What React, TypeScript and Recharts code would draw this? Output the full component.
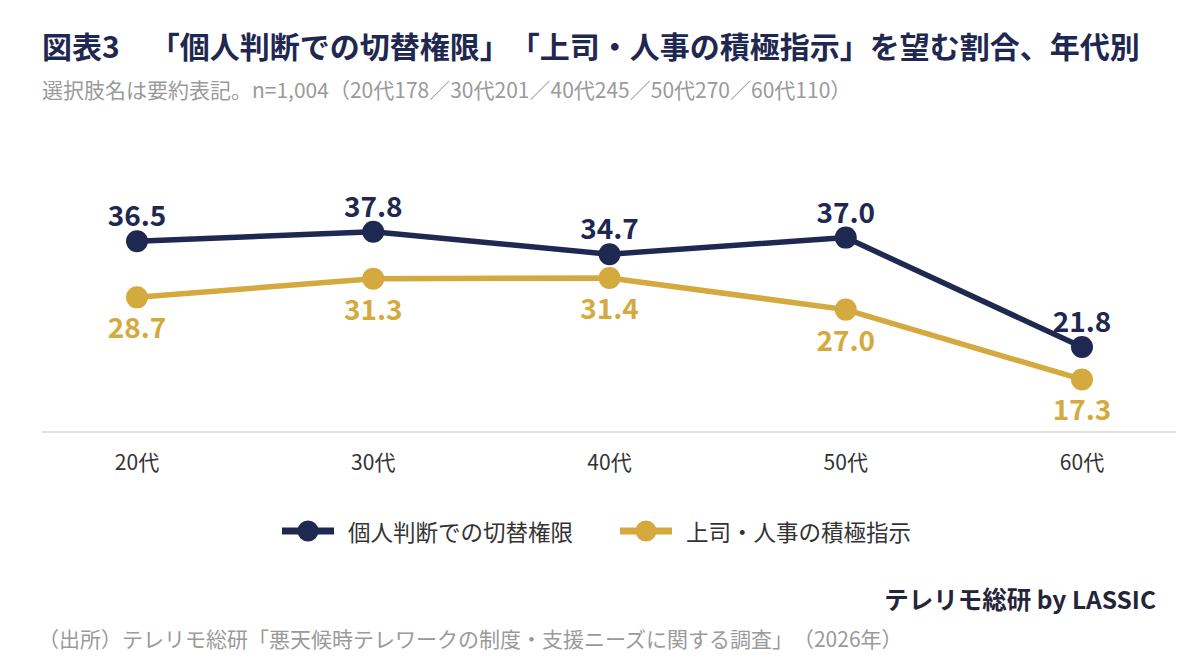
import React from "react";
import { LineChart, Line, XAxis, YAxis, LabelList } from "recharts";

const categories = ["20代", "30代", "40代", "50代", "60代"];
const personalJudgment = [36.5, 37.8, 34.7, 37.0, 21.8];
const bossInstruction = [28.7, 31.3, 31.4, 27.0, 17.3];
const seriesNames = ["個人判断での切替権限", "上司・人事の積極指示"];

const NAVY = "#1f2850";
const GOLD = "#d4aa3e";
const FONT = '"Noto Sans CJK JP", "Noto Sans", sans-serif';

const data = categories.map((c, i) => ({
  name: c,
  a: personalJudgment[i],
  b: bossInstruction[i],
}));

const TopLabel = (props: any) => {
  const { x, y, value } = props;
  return (
    <text x={x} y={y - 27} textAnchor="middle" dominantBaseline="central" fontSize={28} fontWeight={700} fill={NAVY} fontFamily={FONT}>
      {Number(value).toFixed(1)}
    </text>
  );
};
const BottomLabel = (props: any) => {
  const { x, y, value } = props;
  return (
    <text x={x} y={y + 29} textAnchor="middle" dominantBaseline="central" fontSize={28} fontWeight={700} fill={GOLD} fontFamily={FONT}>
      {Number(value).toFixed(1)}
    </text>
  );
};

const Tick = (props: any) => {
  const { x, payload } = props;
  return (
    <text x={x} y={461} textAnchor="middle" dominantBaseline="central" fontSize={21} fill="#333" fontFamily={FONT}>
      {payload.value}
    </text>
  );
};

const LegendItem = ({ color, label, gap }: { color: string; label: string; gap: number }) => (
  <div style={{ display: "flex", alignItems: "center", marginRight: gap }}>
    <svg width={52} height={24} style={{ marginRight: 14 }}>
      <line x1={0} y1={12} x2={52} y2={12} stroke={color} strokeWidth={7} />
      <circle cx={26} cy={12} r={10.5} fill={color} />
    </svg>
    <span style={{ fontSize: 22.5, color: "#333", lineHeight: "30px" }}>{label}</span>
  </div>
);

const trim: any = { textSpacingTrim: "space-all" };

export default function App() {
  return (
    <div style={{ position: "absolute", left: 0, top: 0, width: 1200, height: 664, background: "#fff", fontFamily: FONT, overflow: "hidden", ...trim }}>
      <div style={{ position: "absolute", left: 42, top: 24, fontSize: 30, fontWeight: 700, color: NAVY, whiteSpace: "pre", lineHeight: "42px", ...trim }}>
        {"図表3　「個人判断での切替権限」「上司・人事の積極指示」を望む割合、年代別"}
      </div>
      <div style={{ position: "absolute", left: 42, top: 74, fontSize: 21, color: "#9a9a9a", whiteSpace: "pre", lineHeight: "30px", ...trim }}>
        {"選択肢名は要約表記。n=1,004（20代178／30代201／40代245／50代270／60代110）"}
      </div>
      <div style={{ position: "absolute", left: 0, top: 0 }}>
        <LineChart width={1200} height={664} data={data} margin={{ top: 180, right: 24, bottom: 192, left: 42 }}>
          <XAxis dataKey="name" axisLine={{ stroke: "#e0e0e0", strokeWidth: 2 }} tickLine={false} tick={<Tick />} height={40} padding={{ left: 95, right: 94 }} />
          <YAxis hide domain={[10, 45]} />
          <Line dataKey="b" name={seriesNames[1]} stroke={GOLD} strokeWidth={5.5} dot={{ r: 11, fill: GOLD, stroke: "none" }} activeDot={false} isAnimationActive={false}>
            <LabelList dataKey="b" content={<BottomLabel />} />
          </Line>
          <Line dataKey="a" name={seriesNames[0]} stroke={NAVY} strokeWidth={5.5} dot={{ r: 11, fill: NAVY, stroke: "none" }} activeDot={false} isAnimationActive={false}>
            <LabelList dataKey="a" content={<TopLabel />} />
          </Line>
        </LineChart>
      </div>
      <div style={{ position: "absolute", left: 282, top: 516, display: "flex" }}>
        <LegendItem color={NAVY} label={seriesNames[0]} gap={47} />
        <LegendItem color={GOLD} label={seriesNames[1]} gap={0} />
      </div>
      <div style={{ position: "absolute", right: 44, top: 582, fontSize: 24.5, fontWeight: 700, color: "#25253a", lineHeight: "34px" }}>
        テレリモ総研 by LASSIC
      </div>
      <div style={{ position: "absolute", left: 38, top: 623, fontSize: 21, color: "#9a9a9a", whiteSpace: "pre", lineHeight: "30px", ...trim }}>
        {"（出所）テレリモ総研「悪天候時テレワークの制度・支援ニーズに関する調査」（2026年）"}
      </div>
    </div>
  );
}
